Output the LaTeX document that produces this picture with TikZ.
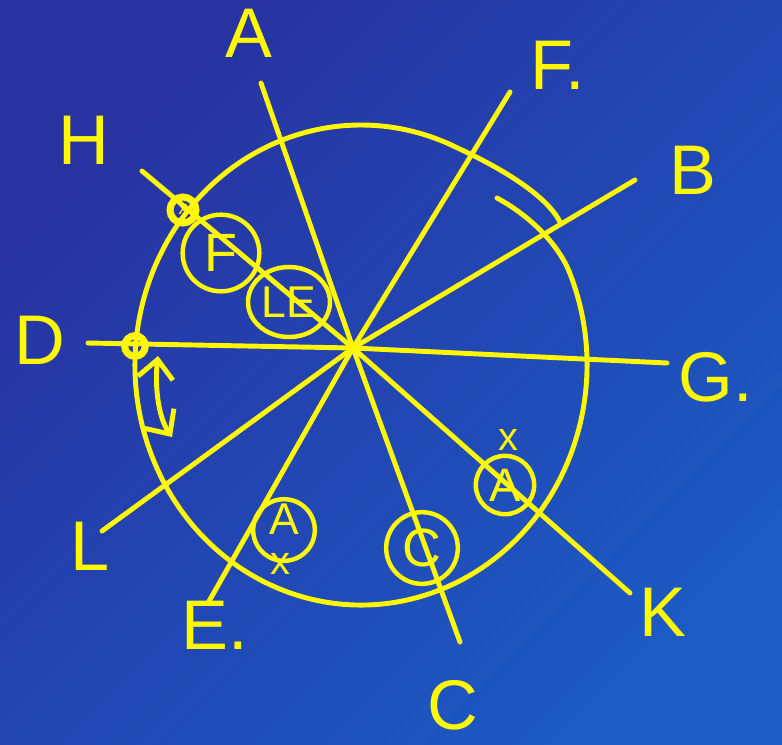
\documentclass[tikz,border=0pt]{standalone}
\usepackage{fontspec}
\setmainfont{Liberation Sans}
\usetikzlibrary{arrows.meta,shapes.geometric}
\definecolor{fondoA}{RGB}{40,50,160}
\definecolor{fondoB}{RGB}{28,90,196}
\definecolor{trazo}{RGB}{255,248,0}
\begin{document}
\begin{tikzpicture}
  [x=0.03cm,y=-0.03cm,line width=4.2pt,line cap=round,draw=trazo,
   every node/.style={text=trazo,inner sep=0pt},
   etiqueta/.style={font=\fontsize{60}{60}\selectfont},
   anillo/.style={circle,draw=trazo,line width=3.8pt,font=\fontsize{46}{46}\selectfont},
   letra/.style={font=\fontsize{38}{38}\selectfont},
   punto/.style={circle,draw=trazo,line width=6pt},
   marca/.style={font=\fontsize{34}{34}\selectfont},
   flecha/.style={{Straight Barb[length=16pt,width=30pt]}-{Straight Barb[length=16pt,width=30pt]}}]
  \shade[top color=fondoA,bottom color=fondoB,shading angle=45] (0,0) rectangle (782,744);
  \useasboundingbox (0,0) rectangle (782,744);

  \coordinate (o) at (353,348);
  \coordinate (pA) at (261,83);
  \coordinate (pF) at (510,92);
  \coordinate (pB) at (635,180);
  \coordinate (pG) at (667,363);
  \coordinate (pK) at (630,593);
  \coordinate (pC) at (460,642);
  \coordinate (pE) at (208,603);
  \coordinate (pL) at (102,531);
  \coordinate (pD) at (88,343);
  \coordinate (pH) at (142,171);

  \foreach \to in {pA,pF,pB,pG,pK,pC,pE,pL,pD,pH}
    \draw (o) -- (\to);

  % el circulo, con el trazo que se solapa junto a B
  \draw ({361+226*cos(-23)},{365+240*sin(-23)})
    arc[start angle=-23,end angle=295,x radius=226,y radius=240]
    .. controls (497,166) and (546,194) .. (560,222);
  \draw (497,198) .. controls (525,213) and (556,240) .. ({361+226*cos(-23)},{365+240*sin(-23)});

  \node[etiqueta] (A) at (249,33) {A};
  \node[etiqueta,anchor=west] (F) at (528,65) {F.};
  \node[etiqueta] (B) at (693,170) {B};
  \node[etiqueta,anchor=west] (G) at (676,377) {G.};
  \node[etiqueta] (K) at (663,612) {K};
  \node[etiqueta] (C) at (453,705) {C};
  \node[etiqueta,anchor=west] (E) at (179,625) {E.};
  \node[etiqueta] (L) at (90,546) {L};
  \node[etiqueta] (D) at (40,340) {D};
  \node[etiqueta] (H) at (84,140) {H};

  \node[anillo,minimum size=2.3cm] (rF) at (221,253) {F};
  \node[anillo,ellipse,minimum width=2.46cm,minimum height=2.1cm,font=\fontsize{38}{38}\selectfont] (rLE) at (289,302) {LE};
  \node[anillo,minimum size=1.85cm] (rA1) at (284,530) {};
  \node[letra] (tA1) at (284,519) {A};
  \node[marca] (x1) at (280,564) {x};
  \node[anillo,minimum size=1.75cm,font=\fontsize{40}{40}\selectfont] (rA2) at (505,485) {A};
  \node[marca] (x2) at (508,440) {x};
  \node[anillo,minimum size=2.15cm] (rC) at (422,548) {C};

  \node[punto,minimum size=0.78cm,font=\fontsize{16}{16}\selectfont] (dH) at (183,210) {x};
  \node[punto,minimum size=0.62cm] (dD) at (135,346) {};

  \coordinate (m1) at (158,356);
  \coordinate (m2) at (172,437);
  \draw[flecha] (m1) .. controls (155,382) and (157,415) .. (m2);

\end{tikzpicture}
\end{document}
